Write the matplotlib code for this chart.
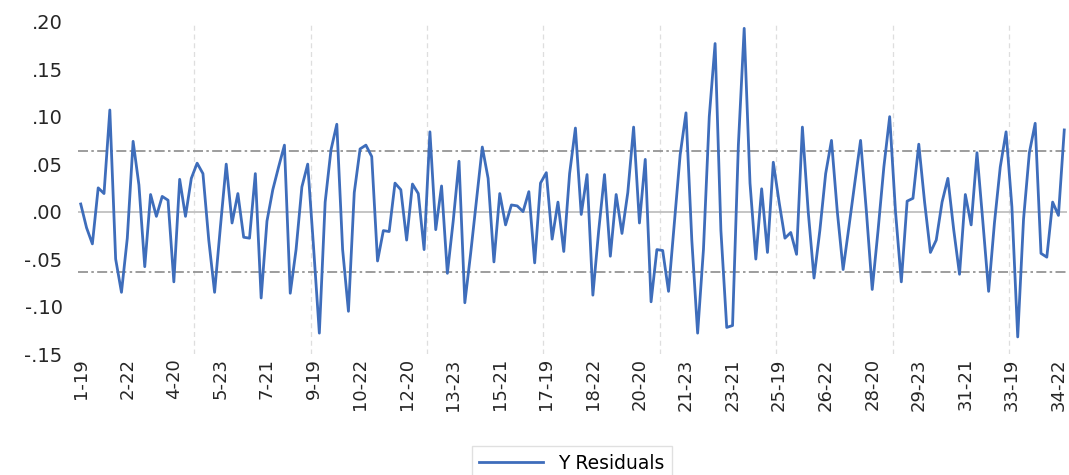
import numpy as np
import matplotlib.pyplot as plt
from matplotlib.ticker import FuncFormatter

# residuals, 34 units x 5 years (19..23)
residuals = [
    0.008, -0.017, -0.034, 0.025, 0.019, 0.107, -0.050, -0.085, -0.028, 0.074,
    0.028, -0.058, 0.018, -0.005, 0.016, 0.012, -0.074, 0.034, -0.005, 0.035,
    0.051, 0.040, -0.030, -0.085, -0.016, 0.050, -0.012, 0.019, -0.027, -0.028,
    0.040, -0.091, -0.010, 0.023, 0.047, 0.070, -0.086, -0.040, 0.026, 0.050,
    -0.037, -0.128, 0.010, 0.065, 0.092, -0.040, -0.105, 0.020, 0.066, 0.070,
    0.058, -0.052, -0.020, -0.021, 0.030, 0.023, -0.030, 0.029, 0.019, -0.040,
    0.084, -0.019, 0.027, -0.065, -0.010, 0.053, -0.096, -0.044, 0.012, 0.068,
    0.035, -0.053, 0.019, -0.014, 0.007, 0.006, 0.000, 0.021, -0.054, 0.030,
    0.041, -0.029, 0.010, -0.042, 0.040, 0.088, -0.003, 0.039, -0.088, -0.020,
    0.039, -0.047, 0.018, -0.023, 0.020, 0.089, -0.012, 0.055, -0.095, -0.040,
    -0.041, -0.084, -0.012, 0.060, 0.104, -0.030, -0.128, -0.040, 0.100, 0.177,
    -0.020, -0.122, -0.120, 0.070, 0.193, 0.030, -0.050, 0.024, -0.043, 0.052,
    0.010, -0.028, -0.022, -0.045, 0.089, 0.000, -0.070, -0.020, 0.040, 0.075,
    0.000, -0.061, -0.016, 0.030, 0.075, 0.000, -0.082, -0.020, 0.047, 0.100,
    0.000, -0.074, 0.011, 0.014, 0.071, 0.010, -0.043, -0.030, 0.010, 0.035,
    -0.019, -0.066, 0.018, -0.014, 0.062, -0.010, -0.084, -0.012, 0.047, 0.084,
    0.005, -0.132, -0.008, 0.062, 0.093, -0.044, -0.048, 0.010, -0.004, 0.086,
]

tick_labels = ['1-19', '2-22', '4-20', '5-23', '7-21', '9-19', '10-22', '12-20',
               '13-23', '15-21', '17-19', '18-22', '20-20', '21-23', '23-21',
               '25-19', '26-22', '28-20', '29-23', '31-21', '33-19', '34-22']
label_step = 8
grid_step = 20
band_upper = 0.0635
band_lower = -0.0635

x = np.arange(len(residuals))

fig = plt.figure(figsize=(10.69, 4.75), dpi=100)
ax = fig.add_axes([0.0728, 0.2547, 0.9255, 0.6996])

# vertical gridlines between categories
for g in np.arange(grid_step - 0.5, len(residuals), grid_step):
    ax.axvline(g, color='#dedede', lw=0.9, ls=(0, (4, 3)), zorder=0)

ax.axhline(0, color='#c0c0c0', lw=1.3, zorder=1)
ax.axhline(band_upper, color='#8c8c8c', lw=1.2, ls=(0, (6, 2, 1.5, 2)), zorder=1)
ax.axhline(band_lower, color='#8c8c8c', lw=1.2, ls=(0, (6, 2, 1.5, 2)), zorder=1)

ax.plot(x, residuals, color='#3e6dbb', lw=2.0, label='Y Residuals', zorder=3)

ax.set_xlim(-0.5, len(residuals) - 0.5)
ax.set_ylim(-0.15, 0.20)
ax.set_yticks(np.arange(-0.15, 0.201, 0.05))
ax.yaxis.set_major_formatter(FuncFormatter(lambda v, p: f"{v:.2f}".replace('0.', '.').replace('-.00', '.00')))
ax.set_xticks(x[::label_step])
ax.set_xticklabels(tick_labels, rotation=90, va='top', ha='center')

ax.tick_params(axis='y', length=0, pad=11, labelsize=14, labelcolor='#262626')
ax.tick_params(axis='x', length=0, pad=3, labelsize=13, labelcolor='#262626')
for s in ax.spines.values():
    s.set_visible(False)

fig.legend(loc='upper center', bbox_to_anchor=(0.535, 0.08), frameon=True,
           fontsize=13.5, handlelength=3.4, edgecolor='#d9d9d9', fancybox=False,
           borderpad=0.4)

plt.savefig('out.png')
